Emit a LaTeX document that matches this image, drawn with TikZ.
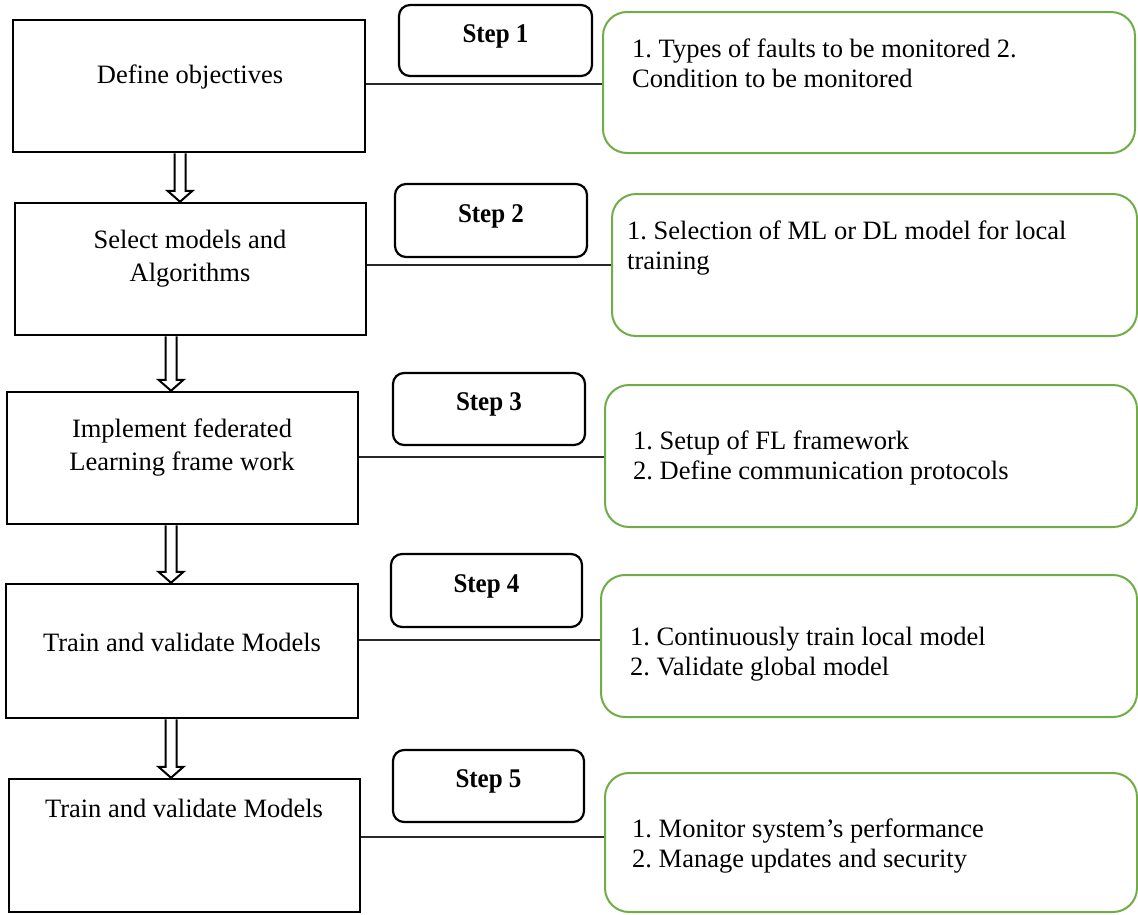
\documentclass[tikz,border=0pt]{standalone}
\usepackage{fontspec}
\setmainfont{Liberation Serif}
\usetikzlibrary{calc}
\definecolor{leafgreen}{RGB}{112,173,71}
\definecolor{linkgray}{RGB}{40,40,40}
\frenchspacing

\begin{document}
\begin{tikzpicture}[x=1pt,y=-1pt,
  stagebox/.style={draw=black, line width=2.5pt, rectangle, inner sep=0pt},
  stepbox/.style={draw=black, line width=2.2pt, rectangle, rounded corners=11pt, inner sep=0pt},
  notebox/.style={draw=leafgreen, line width=2pt, rectangle, rounded corners=24pt, inner sep=0pt},
  stagetext/.style={font=\fontsize{26.5}{33}\selectfont, align=center, inner sep=0pt},
  steptext/.style={font=\fontsize{25}{28}\selectfont\bfseries, inner sep=0pt, yscale=1.08},
  notetext/.style={font=\fontsize{26.5}{30}\selectfont, align=left, anchor=west, inner sep=0pt},
  link/.style={draw=linkgray, line width=1.3pt},
  hollow/.style={draw=black, line width=2pt, fill=white, line join=miter}
]
\useasboundingbox (0,0) rectangle (1138,914);

% left column: the five stages
\node[stagebox, minimum width=352pt, minimum height=132pt] (b1) at (189,86) {};
\node[stagebox, minimum width=351pt, minimum height=132pt] (b2) at (190.5,269) {};
\node[stagebox, minimum width=351pt, minimum height=132pt] (b3) at (182.5,458) {};
\node[stagebox, minimum width=352pt, minimum height=134pt] (b4) at (182,651) {};
\node[stagebox, minimum width=351pt, minimum height=133pt] (b5) at (184.5,845.5) {};

\node[stagetext] (bt1) at (190,77) {Define objectives};
\node[stagetext] (bt2) at (190,259) {Select models and\\Algorithms};
\node[stagetext] (bt3) at (182,448) {Implement federated\\Learning frame work};
\node[stagetext] (bt4) at (182,642) {Train and validate Models};
\node[stagetext] (bt5) at (184,808) {Train and validate Models};

% step tags
\node[stepbox, minimum width=193pt, minimum height=71pt] (s1) at (495.5,40.5) {};
\node[stepbox, minimum width=192pt, minimum height=73pt] (s2) at (491,220.5) {};
\node[stepbox, minimum width=192pt, minimum height=72pt] (s3) at (489,409) {};
\node[stepbox, minimum width=191pt, minimum height=73pt] (s4) at (486.5,590.5) {};
\node[stepbox, minimum width=191pt, minimum height=72pt] (s5) at (488.5,786) {};

\node[steptext, yshift=4pt] (st1) at (s1.center) {Step 1};
\node[steptext, yshift=4pt] (st2) at (s2.center) {Step 2};
\node[steptext, yshift=4pt] (st3) at (s3.center) {Step 3};
\node[steptext, yshift=4pt] (st4) at (s4.center) {Step 4};
\node[steptext, yshift=4pt] (st5) at (s5.center) {Step 5};

% right column: details of each step
\node[notebox, minimum width=532pt, minimum height=141pt] (g1) at (869,82.5) {};
\node[notebox, minimum width=525pt, minimum height=142pt] (g2) at (874.5,265) {};
\node[notebox, minimum width=532pt, minimum height=142pt] (g3) at (871,456) {};
\node[notebox, minimum width=536pt, minimum height=142pt] (g4) at (869,646) {};
\node[notebox, minimum width=532pt, minimum height=139pt] (g5) at (871,842.5) {};

\node[notetext] (gt1) at (632,63.5) {1. Types of faults to be monitored 2.\\Condition to be monitored};
\node[notetext] (gt2) at (627,248) {1. Selection of ML or DL model for local\\training};
\node[notetext] (gt3) at (633,458) {1. Setup of FL framework\\2. Define communication protocols};
\node[notetext] (gt4) at (630,654) {1. Continuously train local model\\2. Validate global model};
\node[notetext] (gt5) at (632,846) {1. Monitor system’s performance\\2. Manage updates and security};

% connectors from each stage to its details
\coordinate (r1) at (0,84);
\coordinate (r2) at (0,265);
\coordinate (r3) at (0,457);
\coordinate (r4) at (0,640);
\coordinate (r5) at (0,837);
\draw[link] (r1 -| b1.east) -- (r1 -| g1.west);
\draw[link] (r2 -| b2.east) -- (r2 -| g2.west);
\draw[link] (r3 -| b3.east) -- (r3 -| g3.west);
\draw[link] (r4 -| b4.east) -- (r4 -| g4.west);
\draw[link] (r5 -| b5.east) -- (r5 -| g5.west);

% hollow block arrows between the stages
\newcommand{\hollowarrow}[3]{%
  \coordinate (ha) at (#3,0);
  \coordinate (hs) at (#1.south -| ha);
  \coordinate (he) at (#2.north -| ha);
  \draw[hollow] ($(hs)+(-5.5,0)$) -- ($(he)+(-5.5,-11)$) -- ($(he)+(-12.5,-11)$)
    -- (he) -- ($(he)+(12.5,-11)$) -- ($(he)+(5.5,-11)$) -- ($(hs)+(5.5,0)$);
}
\hollowarrow{b1}{b2}{180}
\hollowarrow{b2}{b3}{171}
\hollowarrow{b3}{b4}{171}
\hollowarrow{b4}{b5}{171}

\end{tikzpicture}
\end{document}
